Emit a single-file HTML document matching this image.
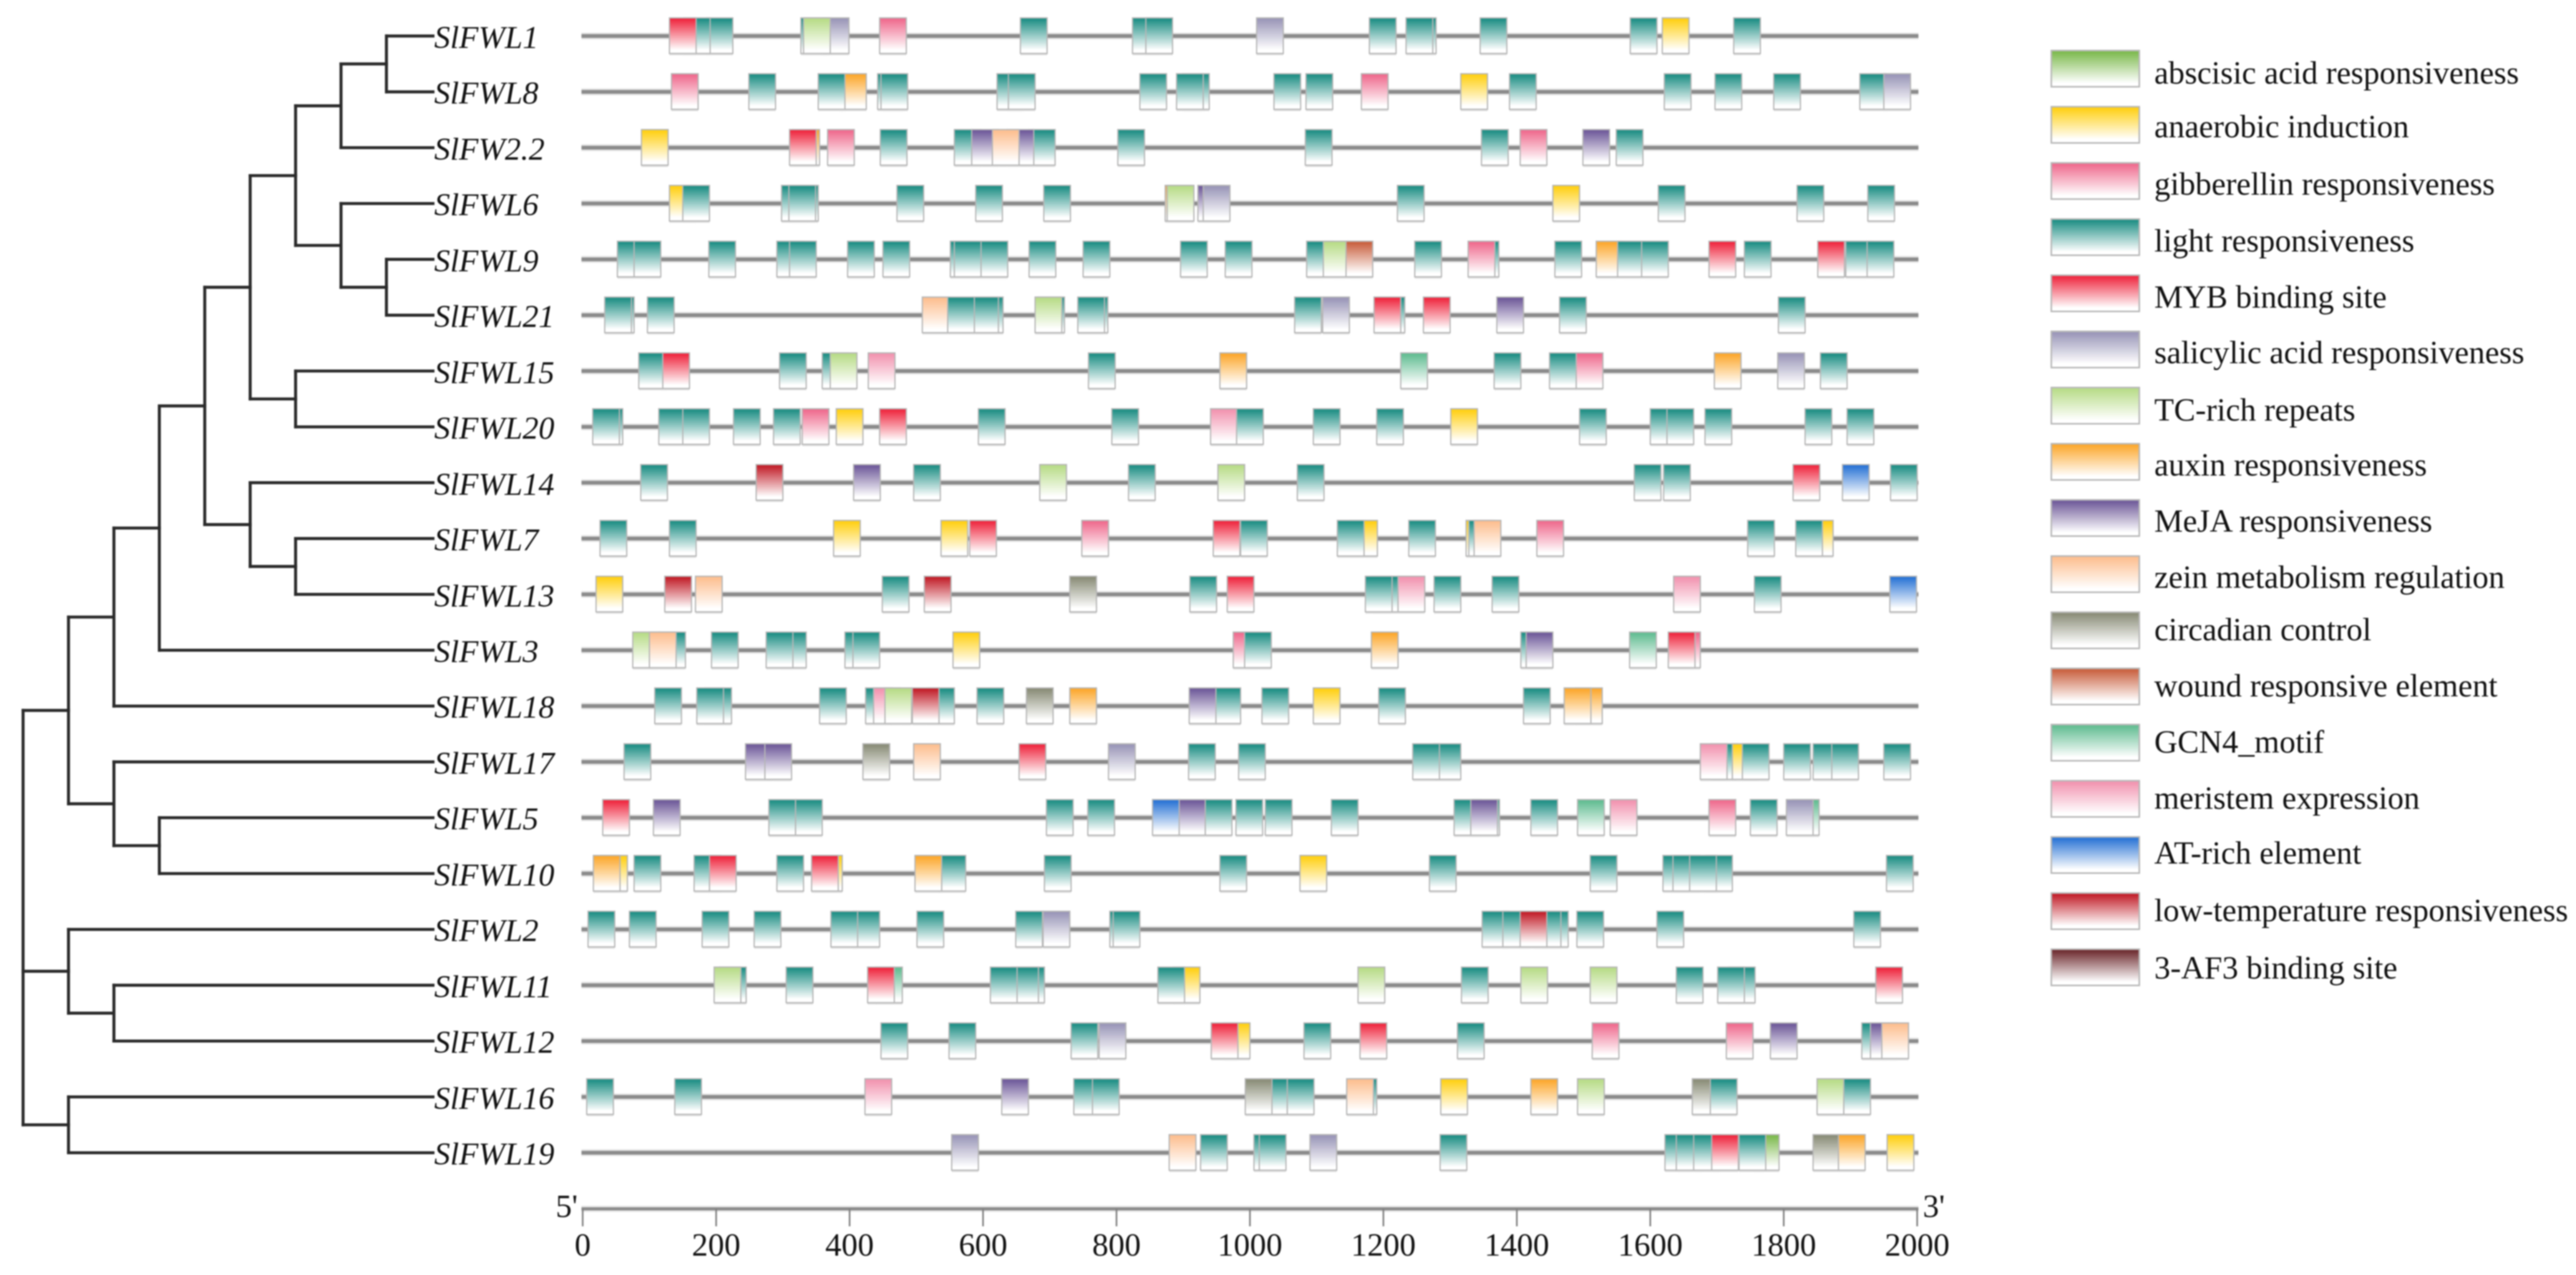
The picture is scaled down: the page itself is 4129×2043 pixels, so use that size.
<!DOCTYPE html>
<html lang="en">
<head>
<meta charset="utf-8">
<title>SlFWL promoter cis-elements</title>
<style>
html,body{margin:0;padding:0;background:#fff;width:4129px;height:2043px;overflow:hidden}
svg{display:block;filter:blur(1.1px)}
text{font-family:"Liberation Serif",serif;fill:#111}
.gene{font-style:italic;font-size:51px}
.leg{font-size:51.6px}
.tick{font-size:52px;text-anchor:middle}
</style>
</head>
<body>
<svg id="chart" xmlns="http://www.w3.org/2000/svg" width="4129" height="2043" viewBox="0 0 4129 2043">
<defs>
<linearGradient id="g0" x1="0" y1="0" x2="0" y2="1"><stop offset=".04" stop-color="#7dba4e"/><stop offset=".9" stop-color="#fff"/></linearGradient>
<linearGradient id="g1" x1="0" y1="0" x2="0" y2="1"><stop offset=".04" stop-color="#ffd014"/><stop offset=".9" stop-color="#fff"/></linearGradient>
<linearGradient id="g2" x1="0" y1="0" x2="0" y2="1"><stop offset=".04" stop-color="#ef6b8e"/><stop offset=".9" stop-color="#fff"/></linearGradient>
<linearGradient id="g3" x1="0" y1="0" x2="0" y2="1"><stop offset=".04" stop-color="#1f8f85"/><stop offset=".9" stop-color="#fff"/></linearGradient>
<linearGradient id="g4" x1="0" y1="0" x2="0" y2="1"><stop offset=".04" stop-color="#ef2840"/><stop offset=".9" stop-color="#fff"/></linearGradient>
<linearGradient id="g5" x1="0" y1="0" x2="0" y2="1"><stop offset=".04" stop-color="#9a96b8"/><stop offset=".9" stop-color="#fff"/></linearGradient>
<linearGradient id="g6" x1="0" y1="0" x2="0" y2="1"><stop offset=".04" stop-color="#b8dc88"/><stop offset=".9" stop-color="#fff"/></linearGradient>
<linearGradient id="g7" x1="0" y1="0" x2="0" y2="1"><stop offset=".04" stop-color="#fca82e"/><stop offset=".9" stop-color="#fff"/></linearGradient>
<linearGradient id="g8" x1="0" y1="0" x2="0" y2="1"><stop offset=".04" stop-color="#6f5a9a"/><stop offset=".9" stop-color="#fff"/></linearGradient>
<linearGradient id="g9" x1="0" y1="0" x2="0" y2="1"><stop offset=".04" stop-color="#fdbf90"/><stop offset=".9" stop-color="#fff"/></linearGradient>
<linearGradient id="g10" x1="0" y1="0" x2="0" y2="1"><stop offset=".04" stop-color="#8a8d78"/><stop offset=".9" stop-color="#fff"/></linearGradient>
<linearGradient id="g11" x1="0" y1="0" x2="0" y2="1"><stop offset=".04" stop-color="#c9603f"/><stop offset=".9" stop-color="#fff"/></linearGradient>
<linearGradient id="g12" x1="0" y1="0" x2="0" y2="1"><stop offset=".04" stop-color="#62bd92"/><stop offset=".9" stop-color="#fff"/></linearGradient>
<linearGradient id="g13" x1="0" y1="0" x2="0" y2="1"><stop offset=".04" stop-color="#f294b0"/><stop offset=".9" stop-color="#fff"/></linearGradient>
<linearGradient id="g14" x1="0" y1="0" x2="0" y2="1"><stop offset=".04" stop-color="#2a74d5"/><stop offset=".9" stop-color="#fff"/></linearGradient>
<linearGradient id="g15" x1="0" y1="0" x2="0" y2="1"><stop offset=".04" stop-color="#c21f2a"/><stop offset=".9" stop-color="#fff"/></linearGradient>
<linearGradient id="g16" x1="0" y1="0" x2="0" y2="1"><stop offset=".04" stop-color="#6e2c30"/><stop offset=".9" stop-color="#fff"/></linearGradient>
</defs>

<g id="tree"></g>
<g id="tracks"></g>
<g id="axis"></g>

<g>
<text class="gene" x="696" y="77">SlFWL1</text>
<text class="gene" x="696" y="166">SlFWL8</text>
<text class="gene" x="696" y="256">SlFW2.2</text>
<text class="gene" x="696" y="345">SlFWL6</text>
<text class="gene" x="696" y="435">SlFWL9</text>
<text class="gene" x="696" y="524">SlFWL21</text>
<text class="gene" x="696" y="614">SlFWL15</text>
<text class="gene" x="696" y="703">SlFWL20</text>
<text class="gene" x="696" y="793">SlFWL14</text>
<text class="gene" x="696" y="882">SlFWL7</text>
<text class="gene" x="696" y="972">SlFWL13</text>
<text class="gene" x="696" y="1061">SlFWL3</text>
<text class="gene" x="696" y="1150">SlFWL18</text>
<text class="gene" x="696" y="1240">SlFWL17</text>
<text class="gene" x="696" y="1329">SlFWL5</text>
<text class="gene" x="696" y="1419">SlFWL10</text>
<text class="gene" x="696" y="1508">SlFWL2</text>
<text class="gene" x="696" y="1598">SlFWL11</text>
<text class="gene" x="696" y="1687">SlFWL12</text>
<text class="gene" x="696" y="1777">SlFWL16</text>
<text class="gene" x="696" y="1866">SlFWL19</text>
</g>

<g stroke-width="0">
<g><rect x="3288" y="81" width="141" height="58" fill="url(#g0)" stroke="#b8b8b8" stroke-width="2.5"/><text class="leg" x="3453" y="134">abscisic acid responsiveness</text></g>
<g><rect x="3288" y="171" width="141" height="58" fill="url(#g1)" stroke="#b8b8b8" stroke-width="2.5"/><text class="leg" x="3453" y="220">anaerobic induction</text></g>
<g><rect x="3288" y="261" width="141" height="58" fill="url(#g2)" stroke="#b8b8b8" stroke-width="2.5"/><text class="leg" x="3453" y="312">gibberellin responsiveness</text></g>
<g><rect x="3288" y="351" width="141" height="58" fill="url(#g3)" stroke="#b8b8b8" stroke-width="2.5"/><text class="leg" x="3453" y="403">light responsiveness</text></g>
<g><rect x="3288" y="441" width="141" height="58" fill="url(#g4)" stroke="#b8b8b8" stroke-width="2.5"/><text class="leg" x="3453" y="493">MYB binding site</text></g>
<g><rect x="3288" y="531" width="141" height="58" fill="url(#g5)" stroke="#b8b8b8" stroke-width="2.5"/><text class="leg" x="3453" y="582">salicylic acid responsiveness</text></g>
<g><rect x="3288" y="621" width="141" height="58" fill="url(#g6)" stroke="#b8b8b8" stroke-width="2.5"/><text class="leg" x="3453" y="674">TC-rich repeats</text></g>
<g><rect x="3288" y="711" width="141" height="58" fill="url(#g7)" stroke="#b8b8b8" stroke-width="2.5"/><text class="leg" x="3453" y="762">auxin responsiveness</text></g>
<g><rect x="3288" y="801" width="141" height="58" fill="url(#g8)" stroke="#b8b8b8" stroke-width="2.5"/><text class="leg" x="3453" y="852">MeJA responsiveness</text></g>
<g><rect x="3288" y="891" width="141" height="58" fill="url(#g9)" stroke="#b8b8b8" stroke-width="2.5"/><text class="leg" x="3453" y="942">zein metabolism regulation</text></g>
<g><rect x="3288" y="981" width="141" height="58" fill="url(#g10)" stroke="#b8b8b8" stroke-width="2.5"/><text class="leg" x="3453" y="1026">circadian control</text></g>
<g><rect x="3288" y="1071" width="141" height="58" fill="url(#g11)" stroke="#b8b8b8" stroke-width="2.5"/><text class="leg" x="3453" y="1116">wound responsive element</text></g>
<g><rect x="3288" y="1161" width="141" height="58" fill="url(#g12)" stroke="#b8b8b8" stroke-width="2.5"/><text class="leg" x="3453" y="1206">GCN4_motif</text></g>
<g><rect x="3288" y="1251" width="141" height="58" fill="url(#g13)" stroke="#b8b8b8" stroke-width="2.5"/><text class="leg" x="3453" y="1296">meristem expression</text></g>
<g><rect x="3288" y="1341" width="141" height="58" fill="url(#g14)" stroke="#b8b8b8" stroke-width="2.5"/><text class="leg" x="3453" y="1384">AT-rich element</text></g>
<g><rect x="3288" y="1431" width="141" height="58" fill="url(#g15)" stroke="#b8b8b8" stroke-width="2.5"/><text class="leg" x="3453" y="1476">low-temperature responsiveness</text></g>
<g><rect x="3288" y="1521" width="141" height="58" fill="url(#g16)" stroke="#b8b8b8" stroke-width="2.5"/><text class="leg" x="3453" y="1568">3-AF3 binding site</text></g>
</g>
</svg>

<script>
// element type indices (same order as the legend)
const ABA=0,ANA=1,GIB=2,LIT=3,MYB=4,SAL=5,TC=6,AUX=7,JA=8,ZEI=9,CIR=10,WND=11,GCN=12,MER=13,ATR=14,LOW=15,AF3=16;
const motifTypeSlugs=["abscisic-acid","anaerobic","gibberellin","light","myb","salicylic-acid","tc-rich","auxin","meja","zein","circadian","wound","gcn4","meristem","at-rich","low-temperature","3-af3"];
const geneSlugs=["slfwl1","slfwl8","slfw2-2","slfwl6","slfwl9","slfwl21","slfwl15","slfwl20","slfwl14","slfwl7","slfwl13","slfwl3","slfwl18","slfwl17","slfwl5","slfwl10","slfwl2","slfwl11","slfwl12","slfwl16","slfwl19"];
const motifLength=40;
const axisTicks=[0,200,400,600,800,1000,1200,1400,1600,1800,2000];
const axisMax=2000;

// [start position, element type], in drawing order (later covers earlier)
const SlFWL1=[[185,LIT],[151,LIT],[130,MYB],[327,LIT],[359,SAL],[331,TC],[445,GIB],[656,LIT],[824,LIT],[844,LIT],[1010,SAL],[1179,LIT],[1239,LIT],[1234,LIT],[1345,LIT],[1570,LIT],[1618,ANA],[1725,LIT]];
const SlFWL8=[[133,GIB],[249,LIT],[385,AUX],[353,LIT],[442,LIT],[447,LIT],[621,LIT],[638,LIT],[835,LIT],[899,LIT],[890,LIT],[1036,LIT],[1084,LIT],[1167,GIB],[1316,ANA],[1389,LIT],[1621,LIT],[1697,LIT],[1785,LIT],[1914,LIT],[1950,SAL]];
const SlFW22=[[88,ANA],[315,AUX],[310,MYB],[367,GIB],[446,LIT],[668,LIT],[636,JA],[557,LIT],[583,JA],[614,ZEI],[802,LIT],[1083,LIT],[1347,LIT],[1405,GIB],[1499,JA],[1549,LIT]];
const SlFWL6=[[130,ANA],[150,LIT],[298,LIT],[313,LIT],[309,LIT],[471,LIT],[589,LIT],[691,LIT],[873,AUX],[876,TC],[922,JA],[930,SAL],[1221,LIT],[1454,ANA],[1612,LIT],[1820,LIT],[1926,LIT]];
const SlFWL9=[[52,LIT],[77,LIT],[189,LIT],[291,LIT],[310,LIT],[397,LIT],[450,LIT],[551,LIT],[557,LIT],[597,LIT],[669,LIT],[750,LIT],[896,LIT],[963,LIT],[1085,LIT],[1110,TC],[1144,WND],[1247,LIT],[1333,LIT],[1327,GIB],[1457,LIT],[1519,AUX],[1551,LIT],[1587,LIT],[1688,MYB],[1741,LIT],[1851,MYB],[1893,LIT],[1925,LIT]];
const SlFWL21=[[37,LIT],[33,LIT],[97,LIT],[509,ZEI],[590,LIT],[583,LIT],[547,LIT],[682,LIT],[678,TC],[747,LIT],[742,LIT],[1067,LIT],[1109,SAL],[1192,LIT],[1186,MYB],[1260,MYB],[1370,JA],[1464,LIT],[1792,LIT]];
const SlFWL15=[[84,LIT],[120,MYB],[295,LIT],[359,LIT],[371,TC],[428,MER],[758,LIT],[955,AUX],[1226,GCN],[1366,LIT],[1449,LIT],[1489,GIB],[1696,AUX],[1791,SAL],[1855,LIT]];
const SlFWL20=[[20,LIT],[15,LIT],[114,LIT],[150,LIT],[226,LIT],[286,LIT],[329,GIB],[380,ANA],[445,MYB],[593,LIT],[793,LIT],[941,MER],[980,LIT],[1095,LIT],[1190,LIT],[1301,ANA],[1494,LIT],[1600,LIT],[1625,LIT],[1682,LIT],[1832,LIT],[1895,LIT]];
const SlFWL14=[[87,LIT],[260,LOW],[406,JA],[496,LIT],[685,TC],[818,LIT],[952,TC],[1071,LIT],[1576,LIT],[1620,LIT],[1814,MYB],[1888,ATR],[1960,LIT]];
const SlFWL7=[[26,LIT],[130,LIT],[376,ANA],[537,ANA],[580,MYB],[748,GIB],[945,MYB],[986,LIT],[1151,ANA],[1131,LIT],[1238,LIT],[1324,ANA],[1328,LIT],[1336,ZEI],[1430,GIB],[1746,LIT],[1834,ANA],[1818,LIT]];
const SlFWL13=[[20,ANA],[123,LOW],[169,ZEI],[449,LIT],[512,LOW],[730,CIR],[910,LIT],[966,MYB],[1182,LIT],[1173,LIT],[1222,MER],[1276,LIT],[1363,LIT],[1635,MER],[1756,LIT],[1959,ATR]];
const SlFWL3=[[114,LIT],[75,TC],[100,ZEI],[193,LIT],[295,LIT],[275,LIT],[393,LIT],[405,LIT],[555,ANA],[975,GIB],[992,LIT],[1182,AUX],[1406,LIT],[1414,JA],[1569,GCN],[1635,GIB],[1627,MYB]];
const SlFWL18=[[108,LIT],[183,LIT],[171,LIT],[355,LIT],[517,LIT],[424,LIT],[436,MER],[453,TC],[494,LOW],[591,LIT],[665,CIR],[730,AUX],[946,LIT],[909,JA],[1018,LIT],[1095,ANA],[1193,LIT],[1410,LIT],[1488,AUX],[1471,AUX]];
const SlFWL17=[[62,LIT],[244,JA],[273,JA],[420,CIR],[496,ZEI],[654,MYB],[788,SAL],[908,LIT],[983,LIT],[1276,LIT],[1244,LIT],[1691,LIT],[1675,MER],[1723,ANA],[1738,LIT],[1800,LIT],[1844,LIT],[1872,LIT],[1950,LIT]];
const SlFWL5=[[30,MYB],[106,JA],[279,LIT],[319,LIT],[695,LIT],[757,LIT],[933,LIT],[893,JA],[854,ATR],[979,LIT],[1023,LIT],[1122,LIT],[1334,LIT],[1306,LIT],[1331,JA],[1421,LIT],[1491,GCN],[1540,MER],[1688,GIB],[1750,LIT],[1813,GCN],[1804,SAL]];
const SlFWL10=[[27,ANA],[16,AUX],[77,LIT],[167,LIT],[190,MYB],[291,LIT],[349,ANA],[343,MYB],[534,LIT],[498,AUX],[692,LIT],[955,LIT],[1075,ANA],[1269,LIT],[1510,LIT],[1683,LIT],[1619,LIT],[1634,LIT],[1659,LIT],[1954,LIT]];
const SlFWL2=[[8,LIT],[70,LIT],[179,LIT],[257,LIT],[405,LIT],[372,LIT],[501,LIT],[649,LIT],[690,SAL],[790,LIT],[795,LIT],[1437,LIT],[1426,LIT],[1348,LIT],[1379,LIT],[1405,LOW],[1490,LIT],[1610,LIT],[1905,LIT]];
const SlFWL11=[[205,LIT],[197,TC],[305,LIT],[439,GCN],[427,MYB],[652,LIT],[643,LIT],[611,LIT],[885,ANA],[862,LIT],[1162,TC],[1317,LIT],[1406,TC],[1510,TC],[1639,LIT],[1717,LIT],[1701,LIT],[1938,MYB]];
const SlFWL12=[[447,LIT],[549,LIT],[732,LIT],[774,SAL],[960,ANA],[942,MYB],[1081,LIT],[1165,MYB],[1311,LIT],[1513,GIB],[1714,GIB],[1780,JA],[1917,LIT],[1930,JA],[1947,ZEI]];
const SlFWL16=[[6,LIT],[138,LIT],[423,MER],[628,JA],[736,LIT],[764,LIT],[1016,LIT],[993,CIR],[1056,LIT],[1150,LIT],[1145,ZEI],[1286,ANA],[1421,AUX],[1491,TC],[1663,CIR],[1690,LIT],[1850,TC],[1890,LIT]];
const SlFWL19=[[553,SAL],[879,ZEI],[926,LIT],[1006,LIT],[1014,LIT],[1090,SAL],[1285,LIT],[1753,ABA],[1622,LIT],[1639,LIT],[1665,LIT],[1692,MYB],[1733,LIT],[1844,CIR],[1882,AUX],[1955,ANA]];
const geneMotifs=[SlFWL1,SlFWL8,SlFW22,SlFWL6,SlFWL9,SlFWL21,SlFWL15,SlFWL20,SlFWL14,SlFWL7,SlFWL13,SlFWL3,SlFWL18,SlFWL17,SlFWL5,SlFWL10,SlFWL2,SlFWL11,SlFWL12,SlFWL16,SlFWL19];

// tree topology: numbers are leaf row indices
const treeTopology=[[[[[[[[[0,1],2],[3,[4,5]]],[6,7]],[8,[9,10]]],11],12],[13,[14,15]]],[16,[17,18]],[19,20]];

const NS="http://www.w3.org/2000/svg";
const xScale=v=>934+v*(3073-934)/axisMax;
const rowY=i=>57.7+i*89.47;
const depthX=d=>37+d*72.8;
const leafX=694;

function make(tag,parent,attrs){
  const el=document.createElementNS(NS,tag);
  for(const k in attrs) el.setAttribute(k,attrs[k]);
  parent.appendChild(el);
  return el;
}

// ---- tree ----
const treeG=document.getElementById("tree");
function treeLine(x1,y1,x2,y2,name){
  const l=make("line",treeG,{x1:x1,y1:y1,x2:x2,y2:y2,stroke:"#2a2a2a","stroke-width":4.8,"stroke-linecap":"square"});
  
  
}
function drawNode(node,d){
  if(typeof node==="number") return rowY(node);
  const x=depthX(d);
  const ys=[];
  node.forEach(function(child){
    const y=drawNode(child,d+1);
    const childX=typeof child==="number"?leafX:depthX(d+1);
    treeLine(x,y,childX,y,"tree-branch");
    ys.push(y);
  });
  treeLine(x,Math.min.apply(null,ys),x,Math.max.apply(null,ys),"tree-clade-bar");
  return (ys[0]+ys[ys.length-1])/2;
}
drawNode(treeTopology,0);

// ---- tracks ----
const tracksG=document.getElementById("tracks");
geneMotifs.forEach(function(motifs,i){
  const y=rowY(i);
  const track=make("g",tracksG,{});
  
  
  make("rect",track,{x:932,y:y-5.5,width:3075-932,height:11,fill:"#e4e4e4"});
  const line=make("rect",track,{x:932,y:y-3,width:3075-932,height:6,fill:"#8b8b8b"});
  
  
  motifs.forEach(function(m){
    const x0=xScale(m[0]);
    const w=xScale(m[0]+motifLength)-x0;
    make("rect",track,{x:x0,y:y+27,width:w,height:4,fill:"#e2e2e2"});
    const box=make("rect",track,{x:x0,y:y-29,width:w,height:57,fill:"url(#g"+m[1]+")",stroke:"#b6b6b6","stroke-width":2});
    
    
  });
});

// ---- axis ----
const axisG=document.getElementById("axis");
const axisY=1937;
make("rect",axisG,{x:xScale(0)-2,y:axisY-5,width:xScale(axisMax)-xScale(0)+4,height:10,fill:"#e6e6e6"});
const axisLine=make("rect",axisG,{x:xScale(0)-2,y:axisY-2.5,width:xScale(axisMax)-xScale(0)+4,height:5,fill:"#8b8b8b"});


axisTicks.forEach(function(t){
  const x=xScale(t);
  const tick=make("line",axisG,{x1:x,y1:axisY,x2:x,y2:1965,stroke:"#7f7f7f","stroke-width":2.6});
  
  
  const label=make("text",axisG,{x:x,y:2012,"class":"tick"});
  label.textContent=t;
  
  
});
const fivePrime=make("text",axisG,{x:926,y:1950,"font-size":52,"text-anchor":"end"});
fivePrime.textContent="5'";


const threePrime=make("text",axisG,{x:3082,y:1950,"font-size":52});
threePrime.textContent="3'";


</script>
</body>
</html>
